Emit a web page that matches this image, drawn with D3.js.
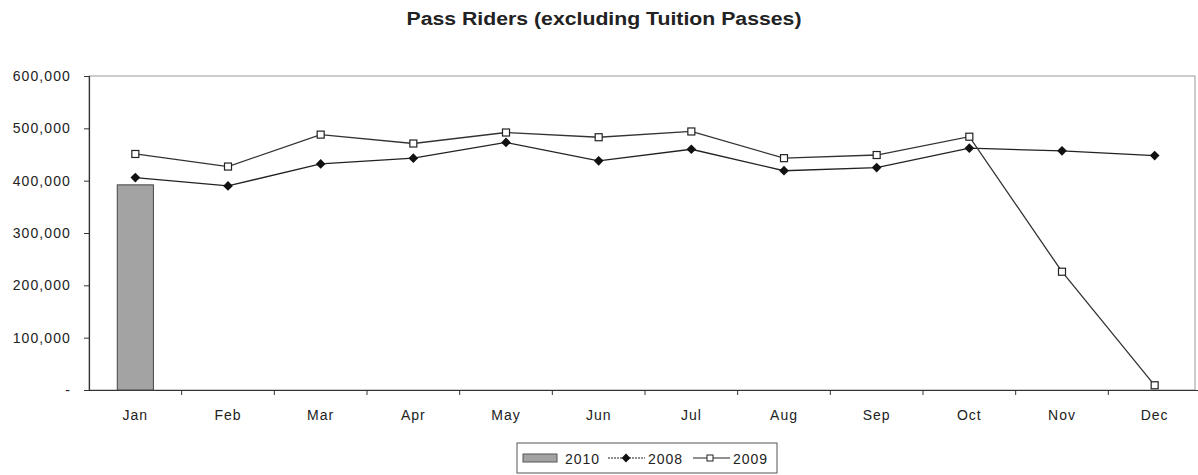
<!DOCTYPE html>
<html>
<head>
<meta charset="utf-8">
<script src="https://cdn.jsdelivr.net/npm/d3@7"></script>
<style>
  body { margin: 0; background: #fff; }
  text { font-family: "Liberation Sans", Arial, sans-serif; fill: #222; }
</style>
</head>
<body>
<script>
// chart data
var months = ["Jan", "Feb", "Mar", "Apr", "May", "Jun", "Jul", "Aug", "Sep", "Oct", "Nov", "Dec"];
var riders2010 = [392000];
var riders2008 = [406000, 390000, 432000, 443000, 473000, 438000, 460000, 419000, 425000, 462000, 457000, 448000];
var riders2009 = [451000, 427000, 488000, 471000, 492000, 483000, 494000, 443000, 449000, 484000, 226000, 9000];
var yTicks = [0, 100000, 200000, 300000, 400000, 500000, 600000];

var svgWidth = 1198;
var svgHeight = 475;
var margin = { top: 76, right: -3, bottom: 85, left: 89 };
var width = svgWidth - margin.left - margin.right;
var height = svgHeight - margin.top - margin.bottom;

var svg = d3.select("body").append("svg")
    .attr("width", svgWidth)
    .attr("height", svgHeight);

svg.append("text")
    .attr("x", 604)
    .attr("y", 25)
    .attr("text-anchor", "middle")
    .attr("textLength", 395)
    .attr("lengthAdjust", "spacingAndGlyphs")
    .style("font-size", "18px")
    .style("font-weight", "bold")
    .text("Pass Riders (excluding Tuition Passes)");

var chartGroup = svg.append("g")
    .attr("transform", `translate(${margin.left}, ${margin.top})`);

var xScale = d3.scaleBand().domain(months).range([0, width]);
var yScale = d3.scaleLinear().domain([0, 600000]).range([height, 0]);

// plot frame (top & right light gray)
chartGroup.append("rect")
    .attr("x", 0).attr("y", 0)
    .attr("width", width - 6).attr("height", height)
    .attr("fill", "none")
    .attr("stroke", "#9a9a9a")
    .attr("stroke-width", 1);

// y axis
var leftAxis = d3.axisLeft(yScale)
    .tickValues(yTicks)
    .tickSize(5)
    .tickPadding(13)
    .tickFormat(d => d === 0 ? "-" : d3.format(",")(d));

var yAxis = chartGroup.append("g").call(leftAxis);
yAxis.select(".domain").attr("stroke", "#333").attr("stroke-width", 1.2);
yAxis.selectAll(".tick line").attr("stroke", "#333");
yAxis.selectAll("text")
    .style("font-size", "14px")
    .style("letter-spacing", "1.1px")
    .attr("fill", "#222");

// x axis with ticks between categories
var xAxis = chartGroup.append("g")
    .attr("transform", `translate(0, ${height})`)
    .call(d3.axisBottom(xScale).tickSize(0).tickPadding(20));
xAxis.select(".domain").attr("stroke", "#333").attr("stroke-width", 1.2);
xAxis.selectAll("text")
    .style("font-size", "14px")
    .style("letter-spacing", "1px")
    .attr("fill", "#222");

xAxis.selectAll(".sep")
    .data(months.slice(1))
    .enter()
    .append("line")
    .attr("x1", d => xScale(d))
    .attr("x2", d => xScale(d))
    .attr("y1", 0)
    .attr("y2", 5)
    .attr("stroke", "#333");

// 2010 bars
var barW = xScale.bandwidth() * 0.39;
chartGroup.selectAll(".bar")
    .data(riders2010)
    .enter()
    .append("rect")
    .attr("x", (d, i) => xScale(months[i]) + xScale.bandwidth() / 2 - barW / 2)
    .attr("y", d => yScale(d))
    .attr("width", barW)
    .attr("height", d => height - yScale(d))
    .attr("fill", "#a3a3a3")
    .attr("stroke", "#444")
    .attr("stroke-width", 1);

var cx = (d, i) => xScale(months[i]) + xScale.bandwidth() / 2;
var line = d3.line().x(cx).y(d => yScale(d));

// 2008 line with diamonds
chartGroup.append("path")
    .datum(riders2008)
    .attr("d", line)
    .attr("fill", "none")
    .attr("stroke", "#222")
    .attr("stroke-width", 1.3);

chartGroup.selectAll(".dia")
    .data(riders2008)
    .enter()
    .append("path")
    .attr("d", d3.symbol().type(d3.symbolDiamond2).size(60))
    .attr("transform", (d, i) => `translate(${cx(d, i)}, ${yScale(d)})`)
    .attr("fill", "#111");

// 2009 line with squares
chartGroup.append("path")
    .datum(riders2009)
    .attr("d", line)
    .attr("fill", "none")
    .attr("stroke", "#333")
    .attr("stroke-width", 1.3);

chartGroup.selectAll(".sq")
    .data(riders2009)
    .enter()
    .append("rect")
    .attr("x", (d, i) => cx(d, i) - 3.5)
    .attr("y", d => yScale(d) - 3.5)
    .attr("width", 7)
    .attr("height", 7)
    .attr("fill", "#fff")
    .attr("stroke", "#222")
    .attr("stroke-width", 1.2);

// legend
var legend = svg.append("g").attr("transform", "translate(517, 443)");
legend.append("rect")
    .attr("width", 260).attr("height", 30)
    .attr("fill", "#fff")
    .attr("stroke", "#555");

legend.append("rect")
    .attr("x", 6).attr("y", 11)
    .attr("width", 34).attr("height", 8)
    .attr("fill", "#a3a3a3").attr("stroke", "#555");
legend.append("text").attr("x", 48).attr("y", 21)
    .style("font-size", "14px").style("letter-spacing", "1px").text("2010");

legend.append("line")
    .attr("x1", 91).attr("x2", 128).attr("y1", 15).attr("y2", 15)
    .attr("stroke", "#222").attr("stroke-width", 1.2).attr("stroke-dasharray", "2,1");
legend.append("path")
    .attr("d", d3.symbol().type(d3.symbolDiamond2).size(50))
    .attr("transform", "translate(109, 15)")
    .attr("fill", "#111");
legend.append("text").attr("x", 131).attr("y", 21)
    .style("font-size", "14px").style("letter-spacing", "1px").text("2008");

legend.append("line")
    .attr("x1", 176).attr("x2", 213).attr("y1", 15).attr("y2", 15)
    .attr("stroke", "#222").attr("stroke-width", 1.2);
legend.append("rect")
    .attr("x", 190).attr("y", 12)
    .attr("width", 6).attr("height", 6)
    .attr("fill", "#fff").attr("stroke", "#222");
legend.append("text").attr("x", 216).attr("y", 21)
    .style("font-size", "14px").style("letter-spacing", "1px").text("2009");
</script>
</body>
</html>
